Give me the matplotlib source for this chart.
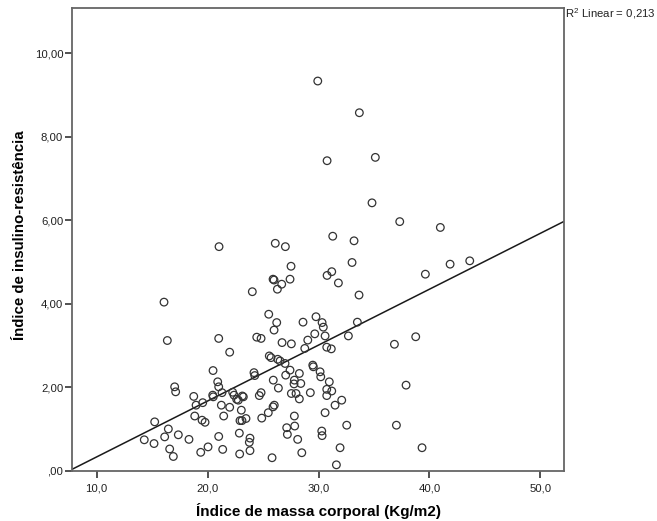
import matplotlib.pyplot as plt
from matplotlib.ticker import FuncFormatter

plt.rcParams['font.family'] = ['Liberation Sans', 'DejaVu Sans']
plt.rcParams['mathtext.fontset'] = 'custom'
plt.rcParams['mathtext.rm'] = 'Liberation Sans'

# IMC (x) e índice de insulino-resistência (y)
imc = [21.03, 26.10, 25.90, 25.99, 26.29, 24.03, 16.07, 25.51, 26.23, 25.99,
       16.37, 21.00, 24.43, 24.82, 26.71, 21.99, 25.56, 25.72, 26.32, 20.49,
       24.18, 24.25, 20.91, 21.00, 25.92, 26.38, 17.03, 17.12, 18.75, 20.46,
       20.51, 21.30, 22.26, 22.38, 22.62, 22.77, 23.13, 23.22, 24.66, 24.82,
       18.96, 19.56, 21.24, 21.99, 23.04, 18.84, 19.50, 19.77, 21.45, 22.92,
       23.10, 23.46, 24.88, 25.47, 25.90, 26.01, 15.23, 16.46, 14.29, 15.17,
       16.13, 17.36, 18.32, 21.00, 22.86, 23.82, 23.76, 16.58, 16.91, 19.38,
       20.04, 21.36, 22.89, 23.82, 25.81,
       31.28, 33.20, 27.01, 27.52, 33.02, 30.77, 31.19, 31.79, 39.63, 26.68,
       27.43, 33.65, 28.60, 29.77, 30.32, 30.43, 30.59, 29.66, 29.03, 28.76,
       30.74, 31.15, 33.50, 32.69, 38.76, 36.84, 27.55, 26.53, 26.98, 27.04,
       27.43, 28.27, 29.48, 29.53, 30.14, 30.20, 27.82, 27.79, 28.40, 27.55,
       27.97, 28.27, 29.26, 30.97, 30.74, 31.19, 30.74, 32.09, 31.49, 30.59,
       27.82, 27.13, 27.85, 27.19, 28.12, 30.29, 30.32, 32.54, 37.02, 28.49,
       31.94, 31.61, 39.33, 37.89,
       29.93, 33.68, 30.77, 35.12, 34.82, 37.32, 40.98, 41.86, 43.63]
homa = [5.37, 5.45, 4.59, 4.57, 4.35, 4.29, 4.04, 3.75, 3.55, 3.37,
        3.12, 3.17, 3.20, 3.17, 3.07, 2.84, 2.75, 2.71, 2.67, 2.40,
        2.35, 2.28, 2.13, 2.01, 2.17, 1.98, 2.01, 1.89, 1.78, 1.81,
        1.77, 1.87, 1.88, 1.81, 1.71, 1.69, 1.79, 1.77, 1.80, 1.87,
        1.57, 1.63, 1.57, 1.52, 1.45, 1.31, 1.21, 1.16, 1.31, 1.20,
        1.20, 1.25, 1.26, 1.39, 1.53, 1.57, 1.17, 1.00, 0.74, 0.65,
        0.81, 0.86, 0.75, 0.82, 0.90, 0.78, 0.68, 0.52, 0.34, 0.44,
        0.57, 0.51, 0.40, 0.48, 0.31,
        5.62, 5.51, 5.37, 4.90, 4.99, 4.68, 4.77, 4.50, 4.71, 4.47,
        4.59, 4.21, 3.56, 3.69, 3.55, 3.44, 3.23, 3.28, 3.13, 2.93,
        2.96, 2.92, 3.56, 3.23, 3.21, 3.03, 3.04, 2.63, 2.57, 2.29,
        2.41, 2.33, 2.53, 2.49, 2.37, 2.25, 2.17, 2.08, 2.09, 1.85,
        1.85, 1.72, 1.87, 2.13, 1.95, 1.91, 1.80, 1.69, 1.57, 1.39,
        1.31, 1.03, 1.07, 0.87, 0.75, 0.95, 0.84, 1.09, 1.09, 0.43,
        0.55, 0.14, 0.55, 2.05,
        9.34, 8.58, 7.43, 7.51, 6.42, 5.97, 5.83, 4.95, 5.03]

# reta de regressão linear
slope = 0.134
intercept = -1.01
r2 = 0.213

xmin, xmax = 7.8, 52.16
ymin, ymax = 0.0, 11.09

fig = plt.figure(figsize=(6.57, 5.21), dpi=100)
ax = fig.add_axes([0.110, 0.0966, 0.749, 0.888])

ax.scatter(imc, homa, s=30, facecolors='none', edgecolors='#333333', linewidths=0.9, zorder=3)
ax.plot([xmin, xmax], [intercept + slope * xmin, intercept + slope * xmax],
        color='#1a1a1a', linewidth=1.1, zorder=2)

ax.set_xlim(xmin, xmax)
ax.set_ylim(ymin, ymax)
ax.set_xticks([10, 20, 30, 40, 50])
ax.set_yticks([0, 2, 4, 6, 8, 10])

def fmt_y(v, pos):
    s = f'{v:.2f}'.replace('.', ',')
    return s[1:] if s.startswith('0') else s

ax.xaxis.set_major_formatter(FuncFormatter(lambda v, p: f'{v:.1f}'.replace('.', ',')))
ax.yaxis.set_major_formatter(FuncFormatter(fmt_y))
ax.tick_params(direction='out', length=5, width=1.2, color='#333333', labelsize=8.2,
               labelcolor='#222222')
ax.tick_params(axis='x', pad=4)
ax.tick_params(axis='y', pad=1.5)

for sp in ax.spines.values():
    sp.set_color('#666666')
    sp.set_linewidth(1.3)

ax.set_xlabel('Índice de massa corporal (Kg/m2)', fontsize=11, fontweight='bold', labelpad=7)
ax.set_ylabel('Índice de insulino-resistência', fontsize=10.8, fontweight='bold', labelpad=8)
ax.yaxis.set_label_coords(-0.093, 0.51)

fig.text(0.860, 0.973, 'R$^2$ Linear = ' + f'{r2:.3f}'.replace('.', ','), fontsize=8.2,
         ha='left', va='center', color='#222222')

fig.savefig('out.png', dpi=100)
